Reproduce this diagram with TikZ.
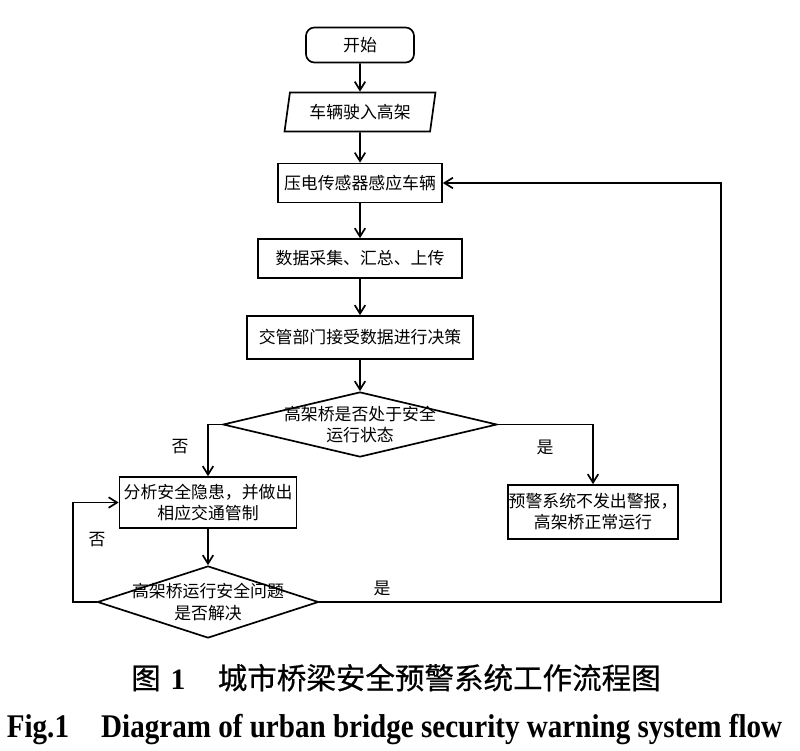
\documentclass[tikz,border=0pt]{standalone}
\usepackage{graphicx}
\usepackage{fontspec}
\setmainfont{Liberation Serif}
\newfontfamily\cjk{Noto Sans CJK SC}
\newfontfamily\cjkcap[FakeBold=0.6]{Noto Sans CJK SC}
\usetikzlibrary{shapes.geometric,arrows.meta,positioning}

\begin{document}
\begin{tikzpicture}[x=0.025cm,y=-0.025cm]
          %% FLOW CHART
          \useasboundingbox (0,0) rectangle (800,750);

          \tikzstyle{every node}=[font=\cjk\fontsize{12}{15}\selectfont, align=center]
          \tikzstyle{every edge}=[draw,line width=1.2pt,-{Straight Barb[length=6pt,width=7.5pt]}]
          \tikzstyle{arrow}=[draw,line width=1.2pt,-{Straight Barb[length=6pt,width=7.5pt]}]
          \tikzstyle{proc}=[draw,line width=1.2pt,inner sep=0pt]
          \tikzstyle{decision}=[proc,diamond]

          % debut et entree
          \node[proc,rounded corners=6pt,minimum width=2.7cm,minimum height=0.875cm] (start) at (360,45) {开始};
          \node[proc,trapezium,trapezium left angle=76,trapezium right angle=104,trapezium stretches=true,
                minimum width=3.8cm,minimum height=0.975cm] (enter) at (360,112) {车辆驶入高架};

          % chaine de traitement
          \node[proc,minimum width=4.1cm,minimum height=0.975cm] (sense) at (360,183) {压电传感器感应车辆};
          \node[proc,minimum width=5.1cm,minimum height=0.975cm] (collect) at (360,258.5) {数据采集、汇总、上传};
          \node[proc,minimum width=5.65cm,minimum height=1.075cm] (decide) at (360,337.5) {交管部门接受数据进行决策};

          % premier test
          \node[decision,minimum width=6.85cm,minimum height=1.625cm,
                label={center:高架桥是否处于安全\\运行状态}] (safe) at (360,424.5) {};
          \node[proc,minimum width=4.425cm,minimum height=1.275cm] (analyse) at (208,502.5) {分析安全隐患，并做出\\相应交通管制};
          \node[proc,minimum width=4.25cm,minimum height=1.35cm] (normal) at (593,512) {预警系统不发出警报，\\高架桥正常运行};

          % deuxieme test
          \node[decision,minimum width=5.525cm,minimum height=1.8cm,
                label={center:高架桥运行安全问题\\是否解决}] (solved) at (208,602) {};

          \coordinate (noturn) at (73,602);
          \coordinate (yesturn) at (721,602);

          % labels
          \node (no1) at (180,447) {否};
          \node (yes1) at (545,447) {是};
          \node (no2) at (97,540) {否};
          \node (yes2) at (382,588) {是};

          \path (start) edge (enter);
          \path (enter) edge (sense);
          \path (sense) edge (collect);
          \path (collect) edge (decide);
          \path (decide) edge (safe);
          \draw[arrow] (safe.west) -| (analyse.north);
          \draw[arrow] (safe.east) -| (normal.north);
          \path (analyse) edge (solved);
          \draw[arrow] (solved.west) -- (noturn) |- (analyse.west);
          \draw[arrow] (solved.east) -- (yesturn) |- (sense.east);

          % legende
          \node[anchor=base,font=\cjkcap\fontsize{21}{25}\selectfont] (caption) at (396,689)
                {图\hspace{7pt}{\rmfamily\bfseries 1}\hspace{23pt}城市桥梁安全预警系统工作流程图};
          \node[anchor=base,font=\rmfamily\bfseries\fontsize{23.5}{28}\selectfont] (captionen) at (394.5,737)
                {\scalebox{0.88}[1]{Fig.1\hspace{26pt}Diagram of urban bridge security warning system flow}};
\end{tikzpicture}
\end{document}
